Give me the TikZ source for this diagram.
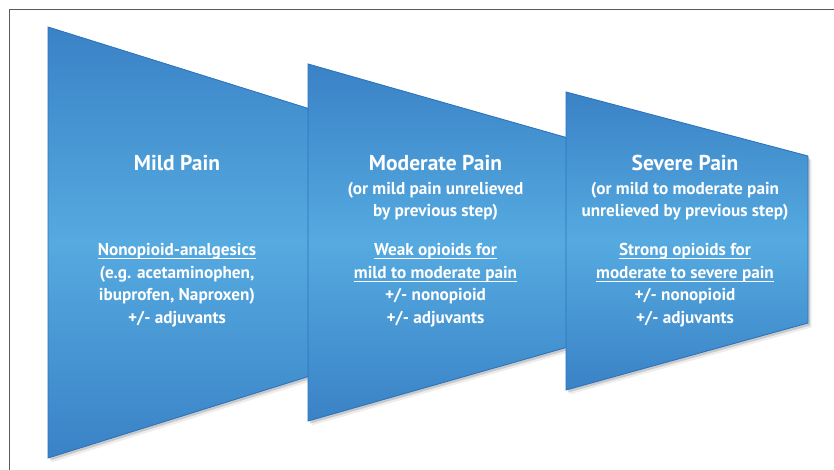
\documentclass[tikz,border=0pt]{standalone}
\usepackage{fontspec}
\setmainfont{PT Sans}
\usetikzlibrary{shadows}
\definecolor{bdark}{RGB}{58,130,198}
\definecolor{blight}{RGB}{85,170,224}
\definecolor{bedge}{RGB}{42,116,192}
\definecolor{framegray}{RGB}{90,90,90}
\newcommand\myul[1]{{\setbox0\hbox{#1}\rlap{\rule[-3.5pt]{\wd0}{0.9pt}}\box0}}
\begin{document}
\begin{tikzpicture}[x=1pt,y=-1pt,
  stepshape/.style={draw=bedge, line width=0.9pt, top color=bdark, bottom color=bdark, middle color=blight,
    general shadow={shadow xshift=3.5pt, shadow yshift=-4.5pt, opacity=0.07, fill=black},
    drop shadow={shadow xshift=2pt, shadow yshift=-2.5pt, opacity=0.15, fill=black}},
  ttl/.style={anchor=base, text=white, font=\fontsize{21.5}{24}\selectfont\bfseries, inner sep=0pt},
  txt/.style={anchor=base, text=white, font=\fontsize{17.2}{20}\selectfont\bfseries, inner sep=0pt}]
\useasboundingbox (0,0) rectangle (834,470);
\fill[white] (0,0) rectangle (834,470);
\draw[framegray, line width=1pt] (9,470) -- (9,10) -- (834,10);
% shapes
\path[stepshape] (48,27) -- (310,109) -- (310,376) -- (48,458) -- cycle;
\path[stepshape] (308,64) -- (568,138) -- (568,347) -- (308,421) -- cycle;
\path[stepshape] (566,92) -- (808,156) -- (808,323) -- (566,390) -- cycle;
% step 1
\node[ttl] (t1) at (177,170.7) {Mild Pain};
\node[txt] (a1) at (177,255.5) {\myul{Nonopioid-analgesics}};
\node[txt] (a2) at (177,278.2) {(e.g. acetaminophen,};
\node[txt] (a3) at (177,300.9) {ibuprofen, Naproxen)};
\node[txt] (a4) at (177,323.6) {+/- adjuvants};
% step 2
\node[ttl] (t2) at (435.5,170.7) {Moderate Pain};
\node[txt] (s21) at (435.5,194.3) {(or mild pain unrelieved};
\node[txt] (s22) at (435.5,216.8) {by previous step)};
\node[txt] (b1) at (435.5,255.5) {\myul{Weak opioids for}};
\node[txt] (b2) at (435.5,278.2) {\myul{mild to moderate pain}};
\node[txt] (b3) at (435.5,300.9) {+/- nonopioid};
\node[txt] (b4) at (435.5,323.6) {+/- adjuvants};
% step 3
\node[ttl] (t3) at (685,170.7) {Severe Pain};
\node[txt] (s31) at (685,194.3) {(or mild to moderate pain};
\node[txt] (s32) at (685,216.8) {unrelieved by previous step)};
\node[txt] (c1) at (685,255.5) {\myul{Strong opioids for}};
\node[txt] (c2) at (685,278.2) {\myul{moderate to severe pain}};
\node[txt] (c3) at (685,300.9) {+/- nonopioid};
\node[txt] (c4) at (685,323.6) {+/- adjuvants};
\end{tikzpicture}
\end{document}
